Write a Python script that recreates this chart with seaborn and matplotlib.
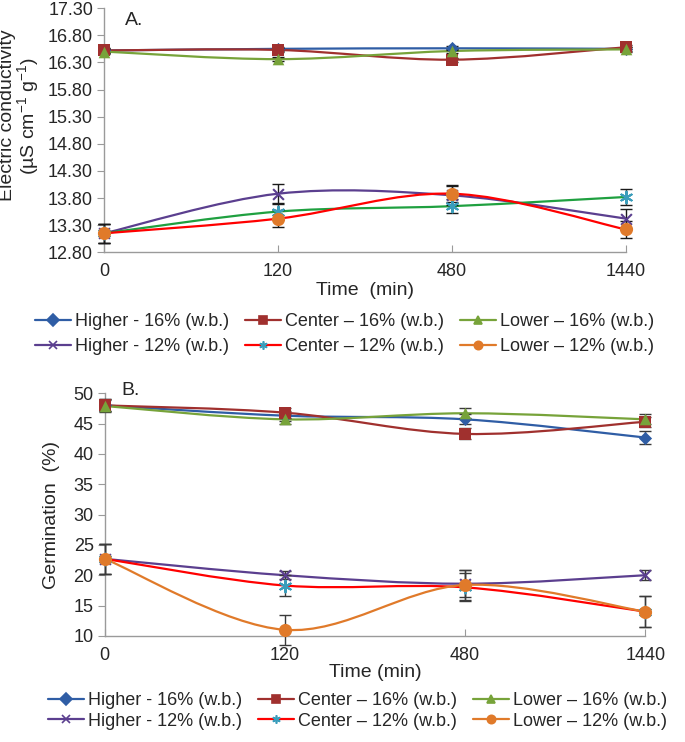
import numpy as np
import pandas as pd
import matplotlib
matplotlib.use("Agg")
import matplotlib.pyplot as plt
from matplotlib.path import Path
from matplotlib.patches import PathPatch
from matplotlib.lines import Line2D
import seaborn as sns

# categories on the x axis (evenly spaced like an Excel category axis)
time_labels = ['0', '120', '480', '1440']

series_names = ['Higher - 16% (w.b.)', 'Center \u2013 16% (w.b.)', 'Lower \u2013 16% (w.b.)',
                'Higher - 12% (w.b.)', 'Center \u2013 12% (w.b.)', 'Lower \u2013 12% (w.b.)']

# panel A - electric conductivity
ec_h16 = [16.52, 16.55, 16.56, 16.55]
ec_c16 = [16.52, 16.53, 16.35, 16.58]
ec_l16 = [16.50, 16.36, 16.51, 16.54]
ec_h12 = [13.15, 13.88, 13.85, 13.42]
ec_c12 = [13.15, 13.55, 13.65, 13.82]
ec_l12 = [13.15, 13.42, 13.88, 13.22]
ec_err_h16 = [0.04, 0.04, 0.04, 0.04]
ec_err_c16 = [0.04, 0.04, 0.04, 0.04]
ec_err_l16 = [0.04, 0.04, 0.04, 0.04]
ec_err_h12 = [0.17, 0.18, 0.17, 0.17]
ec_err_c12 = [0.17, 0.14, 0.13, 0.14]
ec_err_l12 = [0.17, 0.16, 0.16, 0.15]

# panel B - germination
ge_h16 = [48.0, 46.3, 45.7, 42.7]
ge_c16 = [48.0, 46.8, 43.3, 45.3]
ge_l16 = [47.9, 45.7, 46.7, 45.7]
ge_h12 = [22.7, 20.0, 18.6, 20.0]
ge_c12 = [22.7, 18.3, 18.0, 14.0]
ge_l12 = [22.7, 11.0, 18.4, 14.0]
ge_err_h16 = [1.0, 0.8, 0.8, 1.0]
ge_err_c16 = [1.0, 0.8, 0.9, 0.8]
ge_err_l16 = [1.0, 0.8, 0.8, 0.8]
ge_err_h12 = [2.5, 0.7, 2.2, 0.8]
ge_err_c12 = [2.5, 1.7, 2.3, 2.5]
ge_err_l12 = [2.5, 2.5, 2.5, 2.5]

# marker colours, marker styles and line colours
mk_colors = ['#2F5DA5', '#A0302E', '#77A33A', '#5B3F8F', '#3A9DBB', '#E07A2A']
markers = ['D', 's', '^', 'x', (6, 2, 0), 'o']
msizes = [45, 70, 70, 60, 70, 90]
line_colors_a = ['#2F5DA5', '#A0302E', '#77A33A', '#5B3F8F', '#1FA040', '#FF0000']
line_colors_b = ['#2F5DA5', '#A0302E', '#77A33A', '#5B3F8F', '#FF0000', '#E07A2A']
legend_line_colors = line_colors_b

sns.set_style('white')
plt.rcParams['font.family'] = ['Liberation Sans', 'DejaVu Sans']
plt.rcParams['mathtext.default'] = 'regular'
axis_gray = '#9A9A9A'


def smooth_path(xs, ys):
    # Excel-like smoothed line: cubic bezier through the data points
    n = len(xs)
    verts = [(xs[0], ys[0])]
    codes = [Path.MOVETO]
    for i in range(n - 1):
        p0 = i - 1 if i > 0 else i
        p3 = i + 2 if i + 2 < n else i + 1
        c1 = (xs[i] + (xs[i + 1] - xs[p0]) / 6, ys[i] + (ys[i + 1] - ys[p0]) / 6)
        c2 = (xs[i + 1] - (xs[p3] - xs[i]) / 6, ys[i + 1] - (ys[p3] - ys[i]) / 6)
        verts += [c1, c2, (xs[i + 1], ys[i + 1])]
        codes += [Path.CURVE4] * 3
    return Path(verts, codes)


def draw_panel(ax, values, errors, line_colors, err_color):
    x = np.arange(len(time_labels))
    for i, (vals, errs) in enumerate(zip(values, errors)):
        df = pd.DataFrame({'x': x, 'y': vals})
        ax.add_patch(PathPatch(smooth_path(x, vals), facecolor='none',
                               edgecolor=line_colors[i], lw=1.6, zorder=2, clip_on=False))
        ax.errorbar(x, vals, yerr=errs, fmt='none', ecolor=err_color, elinewidth=1.0,
                    capsize=4, capthick=1.0, zorder=3, clip_on=False)
        if markers[i] in ('x', (6, 2, 0)):
            sns.scatterplot(data=df, x='x', y='y', marker=markers[i], s=msizes[i],
                            color=mk_colors[i], linewidth=1.5, ax=ax, zorder=4, clip_on=False)
        else:
            sns.scatterplot(data=df, x='x', y='y', marker=markers[i], s=msizes[i],
                            color=mk_colors[i], edgecolor=mk_colors[i], linewidth=0,
                            ax=ax, zorder=4, clip_on=False)
    ax.set_xlim(0, 3)
    ax.set_xticks(x)
    ax.set_xticklabels(time_labels)
    for s in ['top', 'right']:
        ax.spines[s].set_visible(False)
    for s in ['left', 'bottom']:
        ax.spines[s].set_color(axis_gray)
        ax.spines[s].set_linewidth(1.0)
    ax.tick_params(axis='y', direction='out', length=5, color=axis_gray, left=True, labelsize=13, pad=3)
    ax.tick_params(axis='x', direction='in', length=5, color=axis_gray, bottom=True, labelsize=13, pad=8)


fig = plt.figure(figsize=(6.85, 7.42), dpi=100)
ax_a = fig.add_axes([0.152, 0.660, 0.762, 0.329])
ax_b = fig.add_axes([0.153, 0.143, 0.789, 0.327])

draw_panel(ax_a, [ec_h16, ec_c16, ec_l16, ec_h12, ec_c12, ec_l12],
           [ec_err_h16, ec_err_c16, ec_err_l16, ec_err_h12, ec_err_c12, ec_err_l12],
           line_colors_a, '#1A1A1A')
ax_a.set_ylim(12.80, 17.30)
ax_a.set_yticks(np.arange(12.80, 17.31, 0.5))
ax_a.yaxis.set_major_formatter(matplotlib.ticker.FormatStrFormatter('%.2f'))
ax_a.set_ylabel('Electric conductivity\n(\u00b5S cm$^{-1}$ g$^{-1}$)', fontsize=14,
                linespacing=1.0)
ax_a.yaxis.set_label_coords(-0.12, 0.56)
ax_a.set_xlabel('Time  (min)', fontsize=14, labelpad=1)
ax_a.text(0.04, 0.985, 'A.', transform=ax_a.transAxes, fontsize=14, va='top')

draw_panel(ax_b, [ge_h16, ge_c16, ge_l16, ge_h12, ge_c12, ge_l12],
           [ge_err_h16, ge_err_c16, ge_err_l16, ge_err_h12, ge_err_c12, ge_err_l12],
           line_colors_b, '#3A3A3A')
ax_b.set_ylim(10, 50)
ax_b.set_yticks(np.arange(10, 51, 5))
ax_b.set_ylabel('Germination  (%)', fontsize=14, labelpad=10)
ax_b.set_xlabel('Time (min)', fontsize=14, labelpad=0)
ax_b.text(0.03, 1.045, 'B.', transform=ax_b.transAxes, fontsize=14, va='top')

# legends (column-wise order for ncol=3)
handles = []
for i in range(6):
    handles.append(Line2D([0], [0], color=legend_line_colors[i], lw=1.6, marker=markers[i],
                          markersize=6, markerfacecolor=mk_colors[i], markeredgecolor=mk_colors[i],
                          markeredgewidth=1.2))
order = [0, 3, 1, 4, 2, 5]
for yc, xc, ls in [(0.550, 0.503, 0.45), (0.042, 0.522, 0.2)]:
    fig.legend([handles[k] for k in order], [series_names[k] for k in order],
               loc='center', bbox_to_anchor=(xc, yc), ncol=3, frameon=False, fontsize=13,
               handlelength=2.0, handletextpad=0.2, columnspacing=0.9, labelspacing=ls,
               borderaxespad=0, borderpad=0)

fig.savefig('out.png', dpi=100)
